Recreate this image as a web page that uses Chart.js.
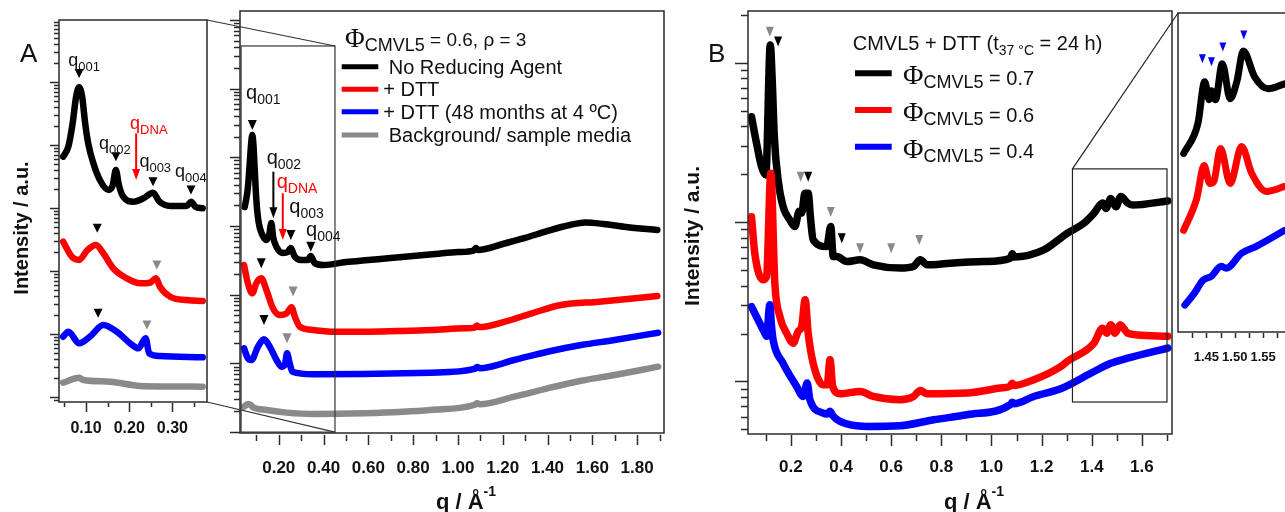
<!DOCTYPE html>
<html><head><meta charset="utf-8">
<script src="https://cdn.jsdelivr.net/npm/chart.js@4/dist/chart.umd.min.js"></script>
<style>
html,body{margin:0;padding:0;overflow:hidden;background:#fff;width:1285px;height:512px;}
canvas{position:absolute;left:0;top:0;}
</style></head><body>
<canvas id="cInsetA" width="1285" height="512"></canvas>
<canvas id="cMainA" width="1285" height="512"></canvas>
<canvas id="cMainB" width="1285" height="512"></canvas>
<canvas id="cInsetB" width="1400" height="512"></canvas>
<script>
// ================= DATA =================
// Panel A, main plot (q in 1/Å, intensity a.u., log scale)
const A_black_q = [0.048,0.055,0.062,0.070,0.077,0.082,0.087,0.094,0.100,0.110,0.125,0.145,0.158,0.167,0.175,0.190,0.219,0.240,0.254,0.270,0.300,0.330,0.343,0.360,0.400,0.50,0.60,0.70,0.80,0.90,1.00,1.07,1.08,1.09,1.20,1.30,1.40,1.50,1.57,1.65,1.75,1.89];
const A_black_I = [1890,2480,3580,7740,16180,21100,15140,5530,2390,1145,766,626,766,1107,692,495,405,418,478,366,320,320,366,290,271,299,320,343,366,392,418,440,478,448,547,670,847,1035,1125,1071,968,875];
const A_red_q = [0.045,0.062,0.082,0.100,0.122,0.145,0.174,0.204,0.235,0.257,0.272,0.294,0.354,0.45,0.58,0.73,0.88,1.03,1.075,1.085,1.095,1.21,1.33,1.46,1.63,1.89];
const A_red_I = [271,147,105,147,173,117,63.4,50.7,53.6,65.6,47.9,34.2,30.6,28.9,28.9,29.6,30.6,32.4,33.2,35.5,33.8,40.5,53.6,70.8,79.1,95.8];
const A_blue_q = [0.045,0.062,0.078,0.107,0.134,0.160,0.190,0.212,0.227,0.237,0.249,0.261,0.354,0.578,0.877,1.075,1.086,1.097,1.251,1.400,1.550,1.699,1.894];
const A_blue_I = [16.6,11.9,11.2,17.5,22.4,17.5,11.2,8.96,9.48,14.0,10.0,7.57,6.94,7.01,7.32,8.3,8.9,8.5,11.2,14.8,18.5,21.9,28.0];
const A_gray_q = [0.045,0.062,0.075,0.085,0.145,0.235,0.354,0.578,0.877,1.075,1.086,1.097,1.251,1.400,1.550,1.699,1.894];
const A_gray_I = [2.34,2.57,2.48,2.30,2.10,1.92,1.83,1.88,2.10,2.50,2.62,2.55,3.28,4.34,5.60,6.78,8.96];

// Panel A, inset (low-q zoom)
const Ain_black_q = [0.047,0.059,0.069,0.077,0.084,0.091,0.098,0.105,0.117,0.132,0.152,0.162,0.169,0.176,0.186,0.210,0.233,0.255,0.270,0.295,0.333,0.343,0.353,0.370];
const Ain_black_I = [6520,9400,22100,58400,82400,58400,22100,10640,5120,2780,1930,2320,4010,2320,1512,1259,1426,1750,1259,1076,1076,1259,1049,989];
const Ain_red_q = [0.047,0.067,0.084,0.103,0.123,0.140,0.163,0.194,0.225,0.248,0.262,0.271,0.295,0.333,0.370];
const Ain_red_I = [292,169,150,215,259,191,110,76.6,63.8,65.2,76.6,56.3,39.1,34.6,33.4];
const Ain_blue_q = [0.047,0.059,0.084,0.109,0.140,0.171,0.202,0.221,0.238,0.246,0.271,0.370];
const Ain_blue_I = [9.06,10.9,7.12,9.06,13.9,10.9,7.12,5.93,8.55,4.94,4.48,4.27];
const Ain_gray_q = [0.047,0.084,0.094,0.156,0.225,0.370];
const Ain_gray_I = [1.69,2.02,1.86,1.75,1.50,1.46];

// Panel B, main plot
const B_black_q = [0.043,0.063,0.083,0.100,0.118,0.126,0.134,0.149,0.169,0.196,0.216,0.233,0.243,0.256,0.269,0.279,0.289,0.343,0.359,0.369,0.383,0.423,0.476,0.529,0.636,0.689,0.716,0.743,0.836,0.969,1.075,1.083,1.090,1.209,1.276,1.303,1.369,1.409,1.443,1.456,1.476,1.496,1.516,1.543,1.563,1.703];
const B_black_I = [45.9,31.3,22.3,19.8,129.5,75,34.4,18.4,12.5,10.3,9.38,11.7,11.4,15.2,15.2,10.3,7.74,7.03,9.38,6.08,6.08,5.66,5.80,5.40,5.15,5.27,5.80,5.40,5.53,5.66,5.94,6.33,6.05,6.70,7.94,8.53,9.86,11.4,13.2,12.2,14.1,12.5,14.5,13.2,12.8,13.6];
const B_red_q = [0.043,0.056,0.089,0.103,0.120,0.136,0.156,0.183,0.209,0.229,0.243,0.257,0.269,0.289,0.329,0.345,0.356,0.367,0.396,0.476,0.529,0.636,0.689,0.716,0.743,0.903,1.036,1.075,1.083,1.090,1.169,1.276,1.303,1.409,1.443,1.460,1.476,1.493,1.513,1.543,1.583,1.703];
const B_red_I = [10.8,6.39,4.35,4.56,20.3,4.14,2.56,2.01,1.74,2.06,2.21,3.26,2.01,1.30,0.953,0.953,1.37,0.930,0.837,0.866,0.805,0.768,0.805,0.878,0.837,0.846,0.909,0.935,0.975,0.945,1.025,1.24,1.34,1.74,2.16,2.01,2.27,2.01,2.27,2.01,1.96,1.92];
const B_blue_q = [0.043,0.069,0.096,0.103,0.116,0.123,0.129,0.169,0.223,0.249,0.265,0.276,0.329,0.345,0.356,0.367,0.396,0.503,0.636,0.769,0.903,1.075,1.083,1.090,1.169,1.276,1.409,1.476,1.543,1.703];
const B_blue_I = [2.95,2.44,2.01,1.92,3.03,2.21,1.83,1.30,0.930,0.805,0.977,0.768,0.633,0.625,0.650,0.610,0.561,0.522,0.527,0.575,0.618,0.715,0.740,0.725,0.805,0.90,1.155,1.30,1.40,1.62];

// Panel B, inset (high-q zoom, arbitrary linear units)
const Bin_black_q = [1.410,1.435,1.447,1.455,1.459,1.466,1.478,1.492,1.504,1.515,1.535,1.559,1.588];
const Bin_black_I = [17.9,20.9,25.1,23.3,24.2,23.3,26.9,23.4,25.2,28.2,25.6,24.4,24.9];
const Bin_red_q = [1.410,1.433,1.446,1.456,1.463,1.475,1.492,1.512,1.530,1.556,1.588];
const Bin_red_I = [10.2,13.4,16.7,14.9,15.1,18.4,14.9,18.6,15.9,14.1,14.6];
const Bin_blue_q = [1.412,1.429,1.444,1.459,1.476,1.485,1.512,1.538,1.588];
const Bin_blue_I = [2.7,3.9,5.2,5.6,6.6,6.4,7.9,8.6,10.2];

// Peak markers (▼): position q, intensity, colour key
const A_tri_q = [0.082,0.254,0.343,0.122,0.264,0.134,0.237];
const A_tri_I = [29600,740,500,287,111,42.9,23.2];
const A_tri_c = ['k','k','k','k','g','k','g'];
const Ain_tri_q = [0.084,0.169,0.255,0.343,0.126,0.264,0.128,0.241];
const Ain_tri_I = [137000,6520,2610,1930,476,124,21.3,13.9];
const Ain_tri_c = ['k','k','k','k','k','g','k','g'];
const B_tri_q = [0.116,0.149,0.239,0.269,0.359,0.403,0.476,0.600,0.712];
const B_tri_I = [157,136,19.3,19.3,11.6,7.94,6.87,6.87,7.74];
const B_tri_c = ['g','k','g','k','g','k','g','g','g'];
const Bin_tri_q = [1.443,1.459,1.479,1.516];
const Bin_tri_I = [27.4,27.1,28.6,29.8];

// Peak labels (q_sub), anchored at left edge / baseline
const A_lbl_sub = ['001','002','DNA','003','004'];
const A_lbl_q = [0.054,0.146,0.191,0.247,0.322];
const A_lbl_I = [70700,8000,3580,1549,716];
const A_lbl_c = ['k','k','r','k','k'];
const Ain_lbl_sub = ['001','002','DNA','003','004'];
const Ain_lbl_q = [0.059,0.130,0.202,0.2235,0.306];
const Ain_lbl_I = [181500,8650,17950,4430,3070];
const Ain_lbl_c = ['k','k','r','k','k'];
// Arrows: q, top intensity, bottom intensity, colour
const A_arr_q = [0.176,0.218];
const A_arr_top = [6180,2998];
const A_arr_bot = [1297,626];
const A_arr_c = ['k','r'];
const Ain_arr_q = [0.216];
const Ain_arr_top = [15300];
const Ain_arr_bot = [2780];
const Ain_arr_c = ['r'];

// Axis ticks and labels
const A_in_xticks = [0.05,0.10,0.15,0.20,0.25,0.30,0.35];
const A_in_xlabels = [0.10,0.20,0.30];
const A_xticks = [0.1,0.2,0.3,0.4,0.5,0.6,0.7,0.8,0.9,1.0,1.1,1.2,1.3,1.4,1.5,1.6,1.7,1.8,1.9];
const A_xlabels = [0.2,0.4,0.6,0.8,1.0,1.2,1.4,1.6,1.8];
const B_xticks = [0.1,0.2,0.3,0.4,0.5,0.6,0.7,0.8,0.9,1.0,1.1,1.2,1.3,1.4,1.5,1.6,1.7];
const B_xlabels = [0.2,0.4,0.6,0.8,1.0,1.2,1.4,1.6];
const Bin_xticks = [1.425,1.45,1.475,1.50,1.525,1.55,1.575];
const Bin_xlabels = [1.45,1.50,1.55];

// Zoom windows drawn inside the main plots (q range, intensity range)
const A_zoom_q = [0.0317,0.451];
const A_zoom_I = [1.0,418000];
const B_zoom_q = [1.323,1.70];
const B_zoom_I = [0.743,21.6];

// ================= STYLE / HELPERS =================
const SANS = "'Liberation Sans', Arial, Helvetica, sans-serif";
const SERIF = "'Liberation Serif', 'Times New Roman', serif";
const AX = '#2a2a2a';
const COL = {k:'#000000', r:'#ff0000', b:'#0000ff', g:'#8a8a8a'};
const TXT = '#111111';

function series(q, v, color, w){
  return {data:q.map((x,i)=>({x:x,y:v[i]})), borderColor:color, backgroundColor:color,
    borderWidth:w, pointRadius:0, cubicInterpolationMode:'monotone',
    borderJoinStyle:'round', borderCapStyle:'round', fill:false};
}
function near(a,b){return Math.abs(a-b)<1e-6;}
function font(p){return (p.w||'normal')+' '+p.s+'px '+(p.f||SANS);}
function rich(ctx,x,y,parts,align){
  let w=0; parts.forEach(p=>{ctx.font=font(p); w+=ctx.measureText(p.t).width;});
  let cx = align==='center'? x-w/2 : x;
  ctx.textAlign='left'; ctx.textBaseline='alphabetic';
  parts.forEach(p=>{ctx.font=font(p); ctx.fillStyle=p.c||TXT; ctx.fillText(p.t,cx,y+(p.dy||0)); cx+=ctx.measureText(p.t).width;});
}
function box(ctx,a){ctx.strokeStyle=AX; ctx.lineWidth=1.5; ctx.strokeRect(a.left,a.top,a.right-a.left,a.bottom-a.top);}
function xTicks(chart,ticks,majors,start,majLen,minLen){
  const ctx=chart.ctx, xs=chart.scales.x, b=chart.chartArea.bottom;
  ctx.strokeStyle=AX; ctx.lineWidth=1.5;
  ticks.forEach(v=>{const x=Math.round(xs.getPixelForValue(v))+0.5; const L=majors.some(m=>near(m,v))?majLen:minLen;
    ctx.beginPath(); ctx.moveTo(x,b+start); ctx.lineTo(x,b+start+L); ctx.stroke();});
}
function yLogTicks(chart,majLen,minLen){
  const ctx=chart.ctx, ys=chart.scales.y, l=chart.chartArea.left;
  ctx.strokeStyle=AX; ctx.lineWidth=1.5;
  const e0=Math.floor(Math.log10(ys.min)), e1=Math.ceil(Math.log10(ys.max));
  for(let e=e0;e<=e1;e++){ for(let k=1;k<10;k++){ const v=k*Math.pow(10,e); if(v<ys.min||v>ys.max) continue;
    const y=Math.round(ys.getPixelForValue(v))+0.5; const L=k===1?majLen:minLen;
    ctx.beginPath(); ctx.moveTo(l,y); ctx.lineTo(l-L,y); ctx.stroke(); } }
}
function tris(chart,qs,Is,cs,w,h,fixedColor){
  const ctx=chart.ctx, xs=chart.scales.x, ys=chart.scales.y;
  qs.forEach((q,i)=>{const x=xs.getPixelForValue(q), y=ys.getPixelForValue(Is[i]);
    ctx.fillStyle=fixedColor||COL[cs[i]]; ctx.beginPath(); ctx.moveTo(x-w/2,y-h/2); ctx.lineTo(x+w/2,y-h/2); ctx.lineTo(x,y+h/2); ctx.closePath(); ctx.fill();});
}
function qLabels(chart,subs,qs,Is,cs,big,small){
  const ctx=chart.ctx, xs=chart.scales.x, ys=chart.scales.y;
  subs.forEach((s,i)=>{const x=xs.getPixelForValue(qs[i]), y=ys.getPixelForValue(Is[i]); const c=cs[i]==='r'?COL.r:TXT;
    rich(ctx,x,y,[{t:'q',s:big,c:c},{t:s,s:small,dy:Math.round(small*0.38),c:c}],'left');});
}
function arrows(chart,qs,tops,bots,cs){
  const ctx=chart.ctx, xs=chart.scales.x, ys=chart.scales.y;
  qs.forEach((q,i)=>{const x=xs.getPixelForValue(q), y1=ys.getPixelForValue(tops[i]), y2=ys.getPixelForValue(bots[i]);
    const c=COL[cs[i]]; ctx.strokeStyle=c; ctx.fillStyle=c; ctx.lineWidth=2;
    ctx.beginPath(); ctx.moveTo(x,y1); ctx.lineTo(x,y2-9); ctx.stroke();
    ctx.beginPath(); ctx.moveTo(x-4,y2-11); ctx.lineTo(x+4,y2-11); ctx.lineTo(x,y2); ctx.closePath(); ctx.fill();});
}
function zoomRect(chart,qr,Ir){
  const xs=chart.scales.x, ys=chart.scales.y;
  return {left:xs.getPixelForValue(qr[0]), right:xs.getPixelForValue(qr[1]), top:ys.getPixelForValue(Ir[1]), bottom:ys.getPixelForValue(Ir[0])};
}
function xAxisCfg(min,max,ticks,labels,size,pad,digits){
  return {type:'linear',min:min,max:max,
    afterBuildTicks:s=>{s.ticks=ticks.map(v=>({value:v}));},
    afterFit:s=>{s.height=60;},
    grid:{display:false}, border:{display:false},
    ticks:{autoSkip:false,maxRotation:0,minRotation:0,padding:pad,color:TXT,
      font:{family:SANS,size:size,weight:'bold'},
      callback:(v)=> labels.some(m=>near(m,v)) ? Number(v).toFixed(digits) : ''}};
}
function baseOpts(pad,x,y){
  return {responsive:false,animation:false,devicePixelRatio:1,events:[],
    layout:{padding:pad},
    plugins:{legend:{display:false},tooltip:{enabled:false}},
    scales:{x:x,y:y}};
}
function qTitle(ctx,cx,y){
  rich(ctx,cx,y,[{t:'q / Å',s:22,w:'bold'},{t:'-1',s:14,w:'bold',dy:-13}],'center');
}
function yTitle(ctx,cx,cy,size){
  ctx.save(); ctx.translate(cx,cy); ctx.rotate(-Math.PI/2);
  ctx.font='bold '+size+'px '+SANS; ctx.fillStyle=TXT; ctx.textAlign='center'; ctx.textBaseline='middle';
  ctx.fillText('Intensity / a.u.',0,0); ctx.restore();
}

// ================= PANEL A INSET =================
const insetA = new Chart(document.getElementById('cInsetA'),{
  type:'line',
  data:{datasets:[series(Ain_gray_q,Ain_gray_I,COL.g,6.5),series(Ain_blue_q,Ain_blue_I,COL.b,6.5),
    series(Ain_red_q,Ain_red_I,COL.r,6.5),series(Ain_black_q,Ain_black_I,COL.k,6.5)]},
  options:baseOpts({left:59,top:20,right:1078,bottom:50},
    xAxisCfg(0.0374,0.380,A_in_xticks,A_in_xlabels,16,9,2),
    {type:'logarithmic',display:false,min:0.833,max:964000}),
  plugins:[{id:'decoA1',afterDraw(chart){
    const ctx=chart.ctx, a=chart.chartArea; ctx.save();
    box(ctx,a);
    xTicks(chart,A_in_xticks,A_in_xlabels,1,9,4);
    yLogTicks(chart,9,5);
    tris(chart,Ain_tri_q,Ain_tri_I,Ain_tri_c,9,9);
    qLabels(chart,Ain_lbl_sub,Ain_lbl_q,Ain_lbl_I,Ain_lbl_c,18,13);
    arrows(chart,Ain_arr_q,Ain_arr_top,Ain_arr_bot,Ain_arr_c);
    rich(ctx,a.left-39,62,[{t:'A',s:26}],'left');
    yTitle(ctx,a.left-37,228,20);
    ctx.restore();
  }}]
});

// ================= PANEL A MAIN =================
const mainA = new Chart(document.getElementById('cMainA'),{
  type:'line',
  data:{datasets:[series(A_gray_q,A_gray_I,COL.g,6.5),series(A_blue_q,A_blue_I,COL.b,6.5),
    series(A_red_q,A_red_I,COL.r,6.5),series(A_black_q,A_black_I,COL.k,6.5)]},
  options:baseOpts({left:240,top:11,right:621,bottom:19},
    xAxisCfg(0.027,1.920,A_xticks,A_xlabels,17,17,2),
    {type:'logarithmic',display:false,min:0.97,max:1350000}),
  plugins:[{id:'decoA2',afterDraw(chart){
    const ctx=chart.ctx, a=chart.chartArea; ctx.save();
    box(ctx,a);
    xTicks(chart,A_xticks,A_xlabels,2,10,6);
    yLogTicks(chart,10,6);
    // zoom window and connectors to inset
    const z=zoomRect(chart,A_zoom_q,A_zoom_I);
    ctx.strokeStyle='#333'; ctx.lineWidth=1.2;
    ctx.strokeRect(z.left,z.top,z.right-z.left,z.bottom-z.top);
    const ia=insetA.chartArea;
    ctx.beginPath(); ctx.moveTo(ia.right,ia.top); ctx.lineTo(z.right,z.top);
    ctx.moveTo(ia.right,ia.bottom); ctx.lineTo(z.right,z.bottom); ctx.stroke();
    tris(chart,A_tri_q,A_tri_I,A_tri_c,9,10);
    qLabels(chart,A_lbl_sub,A_lbl_q,A_lbl_I,A_lbl_c,20,14);
    arrows(chart,A_arr_q,A_arr_top,A_arr_bot,A_arr_c);
    // legend
    const lx=a.left+105;
    rich(ctx,lx,a.top+36,[{t:'Φ',s:27,f:SERIF},{t:'CMVL5',s:18,dy:4},{t:' = 0.6, ρ = 3',s:19,dy:-1}],'left');
    const rows=[[COL.k,'No Reducing Agent',47],[COL.r,'+ DTT',41.5],[COL.b,'+ DTT (48 months at 4 ºC)',41.5],[COL.g,'Background/ sample media',47]];
    const ry=[55.7,78.3,100.7,124];
    rows.forEach((r,i)=>{const y=a.top+ry[i];
      ctx.strokeStyle=r[0]; ctx.lineWidth=5; ctx.lineCap='butt';
      ctx.beginPath(); ctx.moveTo(a.left+101.7,y); ctx.lineTo(a.left+138.3,y); ctx.stroke();
      rich(ctx,a.left+101.7+r[2],y+7,[{t:r[1],s:20}],'left');});
    qTitle(ctx,(a.left+a.right)/2+14,509);
    ctx.restore();
  }}]
});

// ================= PANEL B MAIN =================
const mainB = new Chart(document.getElementById('cMainB'),{
  type:'line',
  data:{datasets:[series(B_blue_q,B_blue_I,COL.b,7.5),series(B_red_q,B_red_I,COL.r,7.5),series(B_black_q,B_black_I,COL.k,7.5)]},
  options:baseOpts({left:748,top:11,right:113,bottom:18},
    xAxisCfg(0.029,1.72,B_xticks,B_xlabels,17,15,1),
    {type:'logarithmic',display:false,min:0.468,max:211.7}),
  plugins:[{id:'decoB1',afterDraw(chart){
    const ctx=chart.ctx, a=chart.chartArea; ctx.save();
    box(ctx,a);
    xTicks(chart,B_xticks,B_xlabels,1,11,6);
    yLogTicks(chart,13,7);
    const z=zoomRect(chart,B_zoom_q,B_zoom_I);
    ctx.strokeStyle='#222'; ctx.lineWidth=1.2;
    ctx.strokeRect(z.left,z.top,z.right-z.left,z.bottom-z.top);
    tris(chart,B_tri_q,B_tri_I,B_tri_c,8,10);
    // legend
    rich(ctx,a.left+104.7,a.top+38.7,[{t:'CMVL5 + DTT (t',s:20},{t:'37 °C',s:14,dy:5},{t:' = 24 h)',s:20}],'left');
    const rows=[[COL.k,'0.7',62.3],[COL.r,'0.6',99],[COL.b,'0.4',135.7]];
    rows.forEach(r=>{const y=a.top+r[2];
      ctx.strokeStyle=r[0]; ctx.lineWidth=6; ctx.lineCap='butt';
      ctx.beginPath(); ctx.moveTo(a.left+107,y); ctx.lineTo(a.left+143.7,y); ctx.stroke();
      rich(ctx,a.left+155,y+11,[{t:'Φ',s:28,f:SERIF},{t:'CMVL5',s:18,dy:4},{t:' = '+r[1],s:20,dy:0.7}],'left');});
    rich(ctx,a.left-40,62,[{t:'B',s:26}],'left');
    yTitle(ctx,a.left-54.7,236,21);
    qTitle(ctx,(a.left+a.right)/2+14,509);
    ctx.restore();
  }}]
});

// ================= PANEL B INSET =================
const insetB = new Chart(document.getElementById('cInsetB'),{
  type:'line',
  data:{datasets:[series(Bin_blue_q,Bin_blue_I,COL.b,7),series(Bin_red_q,Bin_red_I,COL.r,7),series(Bin_black_q,Bin_black_I,COL.k,7)]},
  options:baseOpts({left:1178,top:13,right:100,bottom:120},
    xAxisCfg(1.40,1.615,Bin_xticks,Bin_xlabels,13,10,2),
    {type:'linear',display:false,min:0,max:32}),
  plugins:[{id:'decoB2',afterDraw(chart){
    const ctx=chart.ctx, a=chart.chartArea; ctx.save();
    box(ctx,a);
    xTicks(chart,Bin_xticks,[],1,5,5);
    tris(chart,Bin_tri_q,Bin_tri_I,[],7,9,COL.b);
    const z=zoomRect(mainB,B_zoom_q,B_zoom_I);
    ctx.strokeStyle='#222'; ctx.lineWidth=1.2;
    ctx.beginPath(); ctx.moveTo(z.left,z.top); ctx.lineTo(a.left,a.top); ctx.stroke();
    ctx.restore();
  }}]
});
</script>
</body></html>
